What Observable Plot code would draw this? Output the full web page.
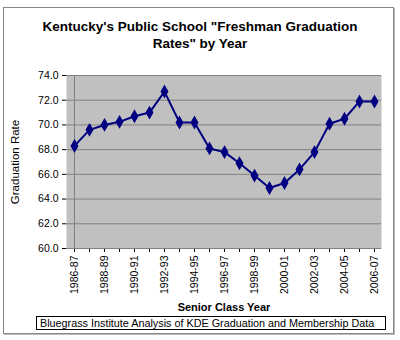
<!DOCTYPE html>
<html><head><meta charset="utf-8">
<script src="https://cdn.jsdelivr.net/npm/d3@7"></script>
<script src="https://cdn.jsdelivr.net/npm/@observablehq/plot@0.6"></script>
<style>
body{margin:0;background:#fff;font-family:"Liberation Sans",Arial,sans-serif;}
#wrap{position:relative;width:400px;height:340px;overflow:hidden;}
#frame{position:absolute;left:3px;top:7px;width:389px;height:325px;border:1px solid #888;box-shadow:1px 1px 0 #bbb;}
#title{position:absolute;left:0;top:18px;width:400px;text-align:center;font-weight:bold;font-size:13.5px;line-height:17px;color:#000;}
#caption{position:absolute;left:36px;top:316px;width:345px;height:12px;border:1px solid #000;font-size:10.8px;line-height:12px;padding-left:3px;box-sizing:content-box;white-space:nowrap;background:#fff;}
#chart{position:absolute;left:0;top:0;}
</style></head>
<body>
<div id="wrap">
<div id="frame"></div>
<div id="chart"></div>
<div id="title">Kentucky's Public School "Freshman Graduation<br>Rates" by Year</div>
<div id="caption">Bluegrass Institute Analysis of KDE Graduation and Membership Data</div>
</div>
<script>
const years = ["1986-87","1987-88","1988-89","1989-90","1990-91","1991-92","1992-93","1993-94","1994-95","1995-96","1996-97","1997-98","1998-99","1999-00","2000-01","2001-02","2002-03","2003-04","2004-05","2005-06","2006-07"];
const rates = [68.3,69.6,70.0,70.25,70.7,71.0,72.7,70.2,70.2,68.1,67.8,66.9,65.9,64.9,65.3,66.4,67.8,70.1,70.5,71.9,71.9];
const yTicks = [60,62,64,66,68,70,72,74];
const labeledYears = years.filter((d,i)=>i%2===0);
const data = years.map((y,i)=>({year:y, rate:rates[i]}));

const chart = Plot.plot({
  width:400, height:340,
  marginLeft:66, marginRight:19, marginTop:75, marginBottom:92,
  style:{fontFamily:"'Liberation Sans', Arial, sans-serif", background:"transparent", color:"#000"},
  x:{type:"point", domain:years, padding:0},
  y:{domain:[60,74]},
  marks:[
    Plot.frame({fill:"#c0c0c0"}),
    Plot.ruleY(yTicks, {stroke:"#808080", strokeWidth:1}),
    Plot.axisX({ticks:years, tickSize:4, tickRotate:-90, tickPadding:3,
      tickFormat:d=>labeledYears.includes(d)?d:"", fontSize:10.5,
      label:"Senior Class Year", labelAnchor:"center", labelArrow:"none", labelOffset:62}),
    Plot.axisY({ticks:yTicks, tickFormat:d3.format(".1f"), tickSize:4, tickPadding:4, fontSize:10.5,
      label:"Graduation Rate", labelAnchor:"center", labelArrow:"none", labelOffset:56}),
    Plot.ruleX([years[0]], {stroke:"#808080"}),
    Plot.ruleY([60], {stroke:"#808080"}),
    Plot.line(data, {x:"year", y:"rate", stroke:"#000080", strokeWidth:2}),
    Plot.dot(data, {x:"year", y:"rate", symbol:"diamond", r:3.3, fill:"#000080", stroke:"#000080"})
  ]
});
document.getElementById("chart").appendChild(chart);
const svg = d3.select(chart);
svg.selectAll("g[aria-label='x-axis label'] text").style("font-weight","bold").style("font-size","11px");
svg.selectAll("g[aria-label='y-axis label'] text").style("font-size","11.5px");
</script>
</body></html>
